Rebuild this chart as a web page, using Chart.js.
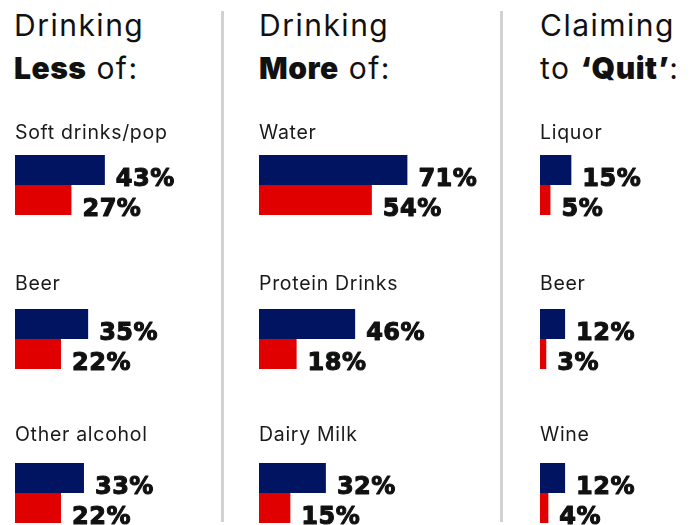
<!DOCTYPE html>
<html>
<head>
<meta charset="utf-8">
<script src="https://cdn.jsdelivr.net/npm/chart.js@4.4.1/dist/chart.umd.min.js"></script>
<style>
  html, body { margin: 0; padding: 0; background: #ffffff; }
  body { width: 700px; height: 525px; overflow: hidden; position: relative; font-family: Inter, "Liberation Sans", sans-serif; }
  .title { position: absolute; top: 4px; font-size: 30px; line-height: 43px; color: #111; letter-spacing: 1.5px; white-space: nowrap; }
  .title b { font-weight: 900; letter-spacing: 0.5px; }
  .divider { position: absolute; top: 11px; width: 3px; height: 511px; background: #d2d2d2; }
  .panel { position: absolute; top: 0; width: 290px; height: 580px; }
</style>
</head>
<body>
<div class="title" style="left:14px">Drinking<br><b>Less</b> of:</div>
<div class="title" style="left:259px">Drinking<br><b>More</b> of:</div>
<div class="title" style="left:540px">Claiming<br>to <b>‘Quit’</b>:</div>
<div class="divider" style="left:221px"></div>
<div class="divider" style="left:500px"></div>
<div class="panel" style="left:15px"><canvas id="c1"></canvas></div>
<div class="panel" style="left:259px"><canvas id="c2"></canvas></div>
<div class="panel" style="left:540px"><canvas id="c3"></canvas></div>
<script>
// ---- data ----
const lessCategories = ["Soft drinks/pop", "Beer", "Other alcohol"];
const lessNavy = [43, 35, 33];
const lessRed = [27, 22, 22];

const moreCategories = ["Water", "Protein Drinks", "Dairy Milk"];
const moreNavy = [71, 46, 32];
const moreRed = [54, 18, 15];

const quitCategories = ["Liquor", "Beer", "Wine"];
const quitNavy = [15, 12, 12];
const quitRed = [5, 3, 4];

const NAVY = "#011462";
const RED = "#e10000";

const labelPlugin = {
  id: "labels",
  afterDatasetsDraw(chart) {
    const ctx = chart.ctx;
    ctx.save();
    // value labels
    ctx.font = "bold 24px 'DejaVu Sans'";
    ctx.letterSpacing = "0.5px";
    ctx.fillStyle = "#111";
    ctx.strokeStyle = "#111";
    ctx.lineWidth = 1.1;
    ctx.lineJoin = "round";
    ctx.textAlign = "left";
    ctx.textBaseline = "alphabetic";
    chart.data.datasets.forEach((ds, di) => {
      const meta = chart.getDatasetMeta(di);
      meta.data.forEach((bar, i) => {
        const t = ds.data[i] + "%";
        const tx = bar.x + 11, ty = bar.y + bar.height / 2 + 0.5;
        ctx.fillText(t, tx, ty);
        ctx.strokeText(t, tx, ty);
      });
    });
    // category labels above each group
    const y = chart.scales.y;
    ctx.font = "19.5px Inter";
    ctx.letterSpacing = "0.7px";
    ctx.fillStyle = "#1a1a1a";
    chart.data.labels.forEach((lab, i) => {
      ctx.fillText(lab, chart.chartArea.left, y.getPixelForValue(i) - 46 - 3 * i);
    });
    ctx.restore();
  }
};

function makeChart(id, cats, navy, red) {
  return new Chart(document.getElementById(id), {
    type: "bar",
    data: {
      labels: cats,
      datasets: [
        { data: navy, backgroundColor: NAVY, borderWidth: 0 },
        { data: red, backgroundColor: RED, borderWidth: 0 }
      ]
    },
    options: {
      indexAxis: "y",
      responsive: false,
      animation: false,
      events: [],
      layout: { padding: { left: 0, right: 81, top: 108, bottom: 10 } },
      datasets: { bar: { barPercentage: 1, categoryPercentage: 60 / 154, clip: false } },
      scales: {
        x: { display: false, min: 0, max: 100 },
        y: { display: false, offset: true }
      },
      plugins: { legend: { display: false }, tooltip: { enabled: false }, title: { display: false } }
    },
    plugins: [labelPlugin]
  });
}

for (const id of ["c1", "c2", "c3"]) {
  const c = document.getElementById(id);
  c.width = 290; c.height = 580;
  c.style.width = "290px"; c.style.height = "580px";
}
makeChart("c1", lessCategories, lessNavy, lessRed);
makeChart("c2", moreCategories, moreNavy, moreRed);
makeChart("c3", quitCategories, quitNavy, quitRed);
</script>
</body>
</html>
